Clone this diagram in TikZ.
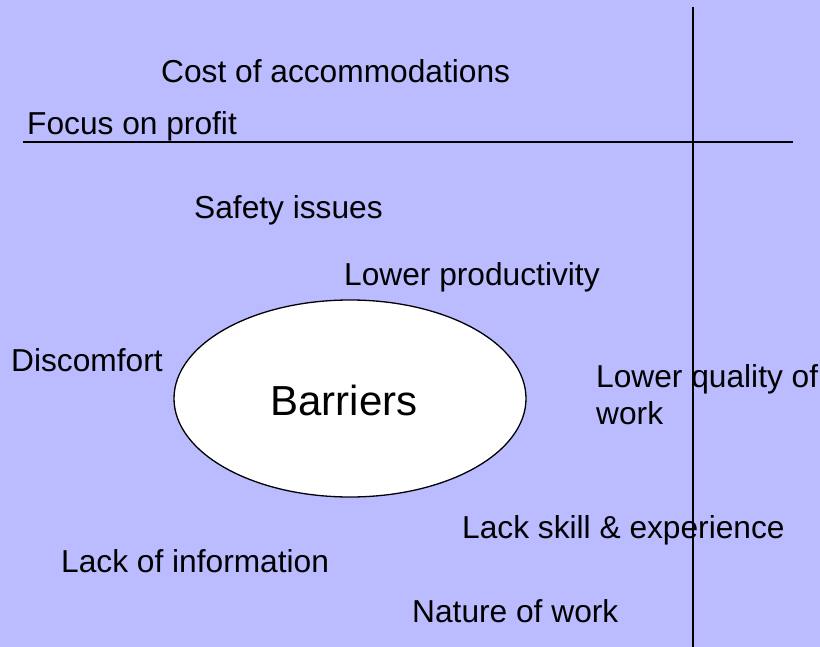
\documentclass[tikz,border=0pt]{standalone}
\usepackage{fontspec}
\setmainfont{Liberation Sans}
\usetikzlibrary{shapes.geometric}
\definecolor{bgblue}{HTML}{BBBBFF}
\begin{document}
\begin{tikzpicture}[x=1pt,y=-1pt,
  lbl/.style={anchor=base west,inner sep=0pt,font=\fontsize{31.7}{36}\selectfont},
  rule/.style={line width=2pt,black}]
\fill[bgblue] (0,0) rectangle (820,647);
\useasboundingbox (0,0) rectangle (820,647);
\node[ellipse,draw,fill=white,line width=1.3pt,minimum width=352pt,minimum height=197pt,inner sep=0pt] (barriers) at (350,398.5) {};
\node[font=\fontsize{42}{48}\selectfont,inner sep=0pt,anchor=base] (btxt) at (344,415) {Barriers};
\node[lbl] (cost) at (161,83) {Cost of accommodations};
\node[lbl] (focus) at (27,135) {Focus on profit};
\node[lbl] (safety) at (194,219) {Safety issues};
\node[lbl] (prod) at (344,286) {Lower productivity};
\node[lbl] (disc) at (11,371) {Discomfort};
\node[lbl] (qual) at (596,388) {Lower quality of};
\node[lbl] (work) at (596,424) {work};
\node[lbl] (skill) at (462,538) {Lack skill \& experience};
\node[lbl] (info) at (61,572) {Lack of information};
\node[lbl] (nature) at (412,622) {Nature of work};
\coordinate (hl) at (23,142);
\coordinate (hr) at (793,142);
\coordinate (vt) at (693,7);
\coordinate (vb) at (693,647);
\draw[rule] (hl) -- (hr);
\draw[rule] (vt) -- (vb);
\end{tikzpicture}
\end{document}
